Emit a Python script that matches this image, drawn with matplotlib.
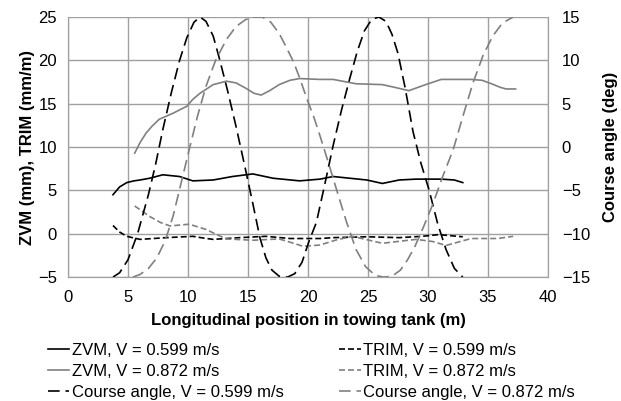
import numpy as np
import matplotlib
matplotlib.use('Agg')
import matplotlib.pyplot as plt

plt.rcParams['font.family'] = ['Liberation Sans', 'DejaVu Sans']

# ZVM (mm), left axis
zvm1_x = [3.75, 4.3, 4.9, 5.5, 6.0, 6.8, 7.9, 9.3, 10.4, 12.1, 13.7, 15.4, 17.1, 19.3, 21.0, 22.1, 24.9, 26.2, 27.6, 29.0, 31.1, 32.2, 32.9]
zvm1_y = [4.5, 5.4, 5.9, 6.1, 6.2, 6.4, 6.8, 6.6, 6.1, 6.2, 6.6, 6.9, 6.4, 6.1, 6.3, 6.6, 6.2, 5.8, 6.2, 6.3, 6.3, 6.2, 5.9]
zvm2_x = [5.56, 6.0, 6.5, 7.0, 7.6, 8.75, 9.9, 10.4, 11.0, 12.1, 13.2, 14.0, 14.8, 15.5, 16.1, 16.8, 17.6, 18.5, 19.3, 21.0, 22.1, 24.0, 26.2, 27.5, 28.4, 29.8, 31.1, 33.6, 34.5, 35.3, 36.0, 36.5, 37.3]
zvm2_y = [9.3, 10.5, 11.6, 12.4, 13.2, 13.9, 14.7, 15.5, 16.2, 17.2, 17.6, 17.4, 16.8, 16.2, 16.0, 16.5, 17.2, 17.7, 17.9, 17.8, 17.8, 17.3, 17.2, 16.8, 16.5, 17.2, 17.8, 17.8, 17.7, 17.3, 16.9, 16.7, 16.7]

# TRIM (mm/m), left axis
trim1_x = [3.75, 4.3, 4.9, 6.0, 7.1, 8.2, 10.4, 11.3, 12.1, 14.3, 16.5, 18.5, 21.0, 22.1, 24.9, 27.6, 29.5, 30.9, 32.9]
trim1_y = [0.95, 0.2, -0.3, -0.65, -0.55, -0.45, -0.3, -0.5, -0.65, -0.45, -0.3, -0.55, -0.55, -0.45, -0.35, -0.45, -0.3, -0.1, -0.35]
trim2_x = [5.56, 6.8, 7.7, 8.5, 10.1, 11.5, 12.4, 13.2, 15.4, 17.6, 18.8, 19.6, 21.0, 22.4, 23.7, 26.2, 29.0, 30.4, 31.5, 33.6, 35.8, 37.1]
trim2_y = [3.2, 2.0, 1.3, 0.9, 1.1, 0.5, -0.1, -0.6, -0.75, -0.6, -1.1, -1.45, -1.3, -0.7, -0.3, -1.1, -0.65, -0.9, -1.35, -0.55, -0.55, -0.3]

# Course angle (deg), right axis
crs1_x = [3.75, 4.3, 5.0, 5.8, 6.7, 7.3, 7.9, 8.6, 9.3, 9.9, 10.5, 11.0, 11.5, 12.1, 12.6, 13.3, 14.0, 14.7, 15.4, 16.0, 16.5, 17.0, 17.6, 18.3, 18.9, 19.5, 20.1, 20.7, 21.4, 22.1, 22.8, 23.5, 24.1, 24.7, 25.3, 25.9, 26.5, 27.0, 27.5, 28.1, 28.75, 29.4, 30.1, 30.8, 31.5, 32.2, 32.9]
crs1_y = [-15, -14.5, -13, -10, -5.5, -2, 2, 6.2, 10, 12.6, 14.4, 15, 14.5, 12.8, 10.3, 6.5, 2.4, -2, -6.5, -10.5, -12.8, -14.2, -14.9, -15, -14.6, -13.3, -10.8, -8.7, -4.3, 0.2, 4.3, 8, 11, 13.4, 14.7, 15, 14.5, 13, 10.8, 6.8, 1.8, -1.8, -5.0, -8.8, -11.8, -14, -15]
crs2_x = [5.4, 6.0, 6.7, 7.4, 8.1, 8.75, 9.4, 10.1, 10.8, 11.5, 12.3, 13.2, 14.0, 14.8, 15.5, 16.2, 16.9, 17.6, 18.2, 18.8, 19.3, 19.9, 20.5, 21.0, 21.7, 22.4, 23.2, 24.0, 24.8, 25.6, 26.3, 27.0, 27.7, 28.3, 28.9, 29.6, 30.4, 31.2, 32.1, 32.9, 33.75, 34.6, 35.4, 36.2, 37.1]
crs2_y = [-15, -14.7, -14, -12.8, -10.8, -8, -4.3, -0.3, 3.6, 7, 10, 12.4, 13.9, 14.7, 15, 15, 14.4, 13.1, 11.5, 9.8, 8, 5.6, 3.4, 1.3, -1.8, -5, -8.6, -11.8, -13.8, -14.8, -15, -14.9, -14.2, -13, -11.5, -9.3, -6.6, -3.5, -0.3, 3.5, 7.4, 10.6, 12.8, 14.3, 15]

black = '#000000'
grey = '#808080'
lw = 1.2
fs = 12

fig = plt.figure(figsize=(6.21, 4.01), dpi=100)
ax = fig.add_axes([0.1095, 0.309, 0.7729, 0.6486])
ax2 = ax.twinx()

l1, = ax.plot(zvm1_x, zvm1_y, color=black, lw=lw, label='ZVM, V = 0.599 m/s')
l2, = ax.plot(zvm2_x, zvm2_y, color=grey, lw=lw, label='ZVM, V = 0.872 m/s')
l4, = ax.plot(trim1_x, trim1_y, color=black, lw=lw, dashes=(3.6, 1.8), label='TRIM, V = 0.599 m/s')
l5, = ax.plot(trim2_x, trim2_y, color=grey, lw=lw, dashes=(3.6, 1.8), label='TRIM, V = 0.872 m/s')
l3, = ax2.plot(crs1_x, crs1_y, color=black, lw=lw, dashes=(7, 3.5), label='Course angle, V = 0.599 m/s')
l6, = ax2.plot(crs2_x, crs2_y, color=grey, lw=lw, dashes=(7, 3.5), label='Course angle, V = 0.872 m/s')

ax.set_xlim(0, 40)
ax.set_ylim(-5, 25)
ax2.set_ylim(-15, 15)
ax.set_xticks(np.arange(0, 41, 5))
ax.set_yticks(np.arange(-5, 26, 5))
ax2.set_yticks(np.arange(-15, 16, 5))
ax.grid(True, color='#a0a0a0', lw=1)
ax.set_axisbelow(True)

for a in (ax, ax2):
    for s in a.spines.values():
        s.set_color('#a0a0a0')
    a.spines['top'].set_visible(False)
    a.tick_params(length=0, labelsize=fs)
ax.tick_params(axis='y', pad=8)
ax.tick_params(axis='x', pad=9)
ax2.tick_params(axis='y', pad=10)

ax.set_xlabel('Longitudinal position in towing tank (m)', fontsize=fs, fontweight='bold', labelpad=6)
ax.set_ylabel('ZVM (mm), TRIM (mm/m)', fontsize=fs, fontweight='bold', labelpad=2)
ax2.set_ylabel('Course angle (deg)', fontsize=fs, fontweight='bold', labelpad=9)

fig.legend(handles=[l1, l2, l3, l4, l5, l6], ncol=2, frameon=False, fontsize=fs,
           loc='upper left', bbox_to_anchor=(0.077, 0.145), handlelength=1.3,
           handletextpad=0.15, columnspacing=3.3, labelspacing=0.36,
           borderpad=0, borderaxespad=0)

fig.savefig('out.png', dpi=100)
